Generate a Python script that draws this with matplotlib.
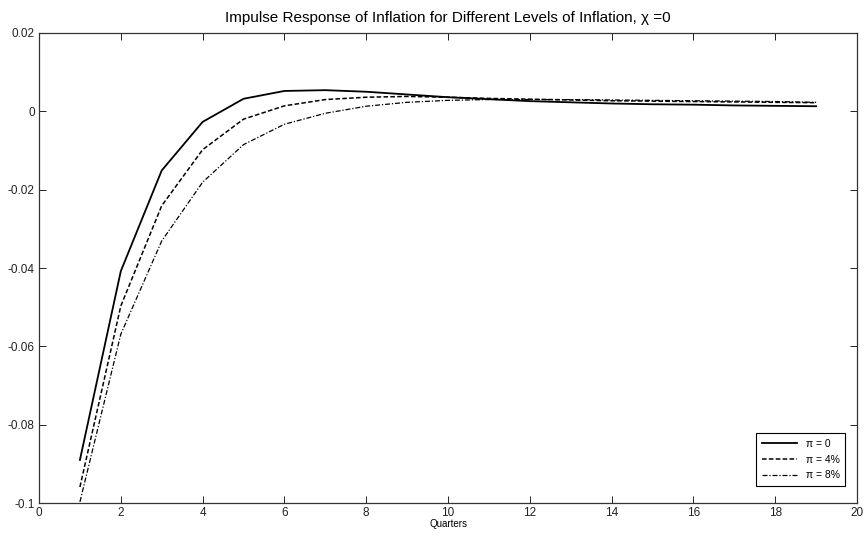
import numpy as np
import matplotlib
matplotlib.use('Agg')
import matplotlib.pyplot as plt

plt.rcParams['font.family'] = ['Liberation Sans', 'DejaVu Sans']

# Datos (trimestres 1..19)
quarters = np.arange(1, 20)
pi_0 = [-0.0890, -0.0408, -0.0151, -0.0027, 0.0032, 0.0052, 0.0054, 0.0050, 0.0043,
        0.0036, 0.0031, 0.0026, 0.0023, 0.0020, 0.0018, 0.0017, 0.0015, 0.0014, 0.0013]
pi_4 = [-0.0959, -0.0497, -0.0241, -0.0098, -0.0020, 0.0014, 0.0030, 0.0036, 0.0038,
        0.0036, 0.0033, 0.0031, 0.0029, 0.0027, 0.0026, 0.0025, 0.0024, 0.0023, 0.0022]
pi_8 = [-0.0997, -0.0569, -0.0331, -0.0181, -0.0085, -0.0033, -0.0005, 0.0013, 0.0023,
        0.0028, 0.0030, 0.0030, 0.0030, 0.0029, 0.0028, 0.0027, 0.0026, 0.0025, 0.0023]
labels = ['π = 0', 'π = 4%', 'π = 8%']

fig = plt.figure(figsize=(8.65, 5.38), dpi=100)
ax = fig.add_axes([0.0451, 0.065, 0.9457, 0.8737])

ax.plot(quarters, pi_0, '-', color='black', linewidth=1.3, label=labels[0])
ax.plot(quarters, pi_4, '--', color='black', linewidth=1.1, dashes=(3, 1.5), label=labels[1])
ax.plot(quarters, pi_8, '-.', color='black', linewidth=0.9, dashes=(4, 1.5, 1, 1.5), label=labels[2])

ax.set_xlim(0, 20)
ax.set_ylim(-0.1, 0.02)
ax.set_xticks(np.arange(0, 21, 2))
ax.set_yticks(np.arange(-0.1, 0.021, 0.02))
ax.set_yticklabels(['-0.1', '-0.08', '-0.06', '-0.04', '-0.02', '0', '0.02'])
ax.tick_params(direction='in', top=True, right=True, labelsize=8.5, length=5, width=0.7,
               colors='#222222', pad=3)
for s in ax.spines.values():
    s.set_linewidth(0.9)
    s.set_color('#333333')

ax.set_title('Impulse Response of Inflation for Different Levels of Inflation, χ =0',
             fontsize=11, pad=8)
ax.set_xlabel('Quarters', fontsize=7, labelpad=0)

leg = ax.legend(loc='lower right', fontsize=7.5, fancybox=False, edgecolor='black',
                framealpha=1, handlelength=3.4, borderpad=0.55, labelspacing=0.55,
                bbox_to_anchor=(0.992, 0.025))
leg.get_frame().set_linewidth(0.8)

fig.savefig('out.png', dpi=100)
